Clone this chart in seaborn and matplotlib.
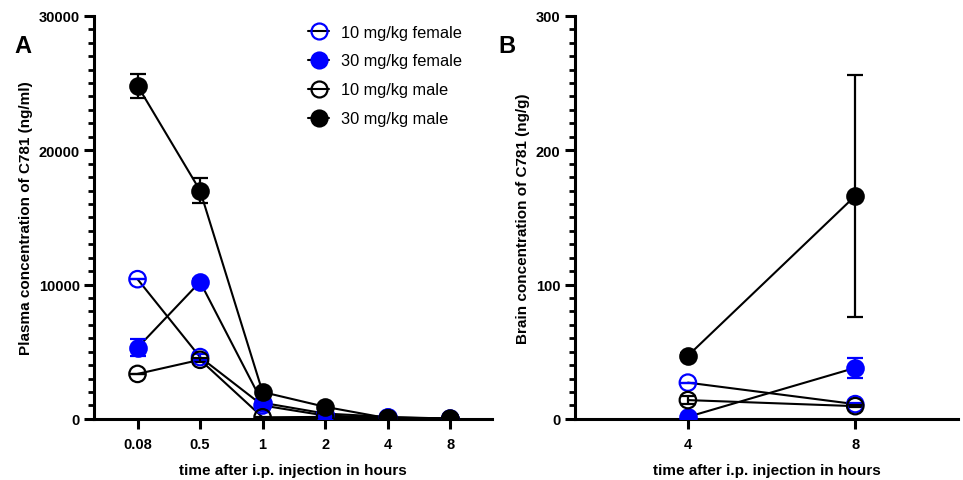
"""
plot.py

C781 plasma and brain concentration after i.p. injection (panels A and B).
"""

import pandas as pd
import matplotlib.pyplot as plt
from matplotlib.lines import Line2D
from matplotlib.ticker import MultipleLocator
import seaborn as sns


# ========== DATA ========== #

GROUPS = ["10 mg/kg female", "30 mg/kg female", "10 mg/kg male", "30 mg/kg male"]
COLORS = ["blue", "blue", "black", "black"]
FILLED = [False, True, False, True]

PLASMA_TIMES = ["0.08", "0.5", "1", "2", "4", "8"]
plasma_f10 = [10400, 4600, 1000, 250, 100, 30]
plasma_f30 = [5300, 10200, 1200, 400, 150, 20]
plasma_m10 = [3350, 4400, 120, 150, 50, 20]
plasma_m30 = [24800, 17000, 2000, 900, 50, 30]
plasma_f10_err = [0, 250, 100, 50, 30, 10]
plasma_f30_err = [650, 200, 250, 100, 40, 10]
plasma_m10_err = [0, 150, 50, 30, 20, 10]
plasma_m30_err = [900, 950, 150, 100, 20, 10]

BRAIN_TIMES = ["4", "8"]
brain_f10 = [27, 11]
brain_f30 = [1.5, 38]
brain_m10 = [14, 9.5]
brain_m30 = [47, 166]
brain_f10_err = [0, 1]
brain_f30_err = [0.5, 7.5]
brain_m10_err = [3, 1]
brain_m30_err = [2, 90]


# ========== HELPERS ========== #

def make_frame(times, values, errors):
    rows = []
    for grp, vals, errs in zip(GROUPS, values, errors):
        for i, (t, v, e) in enumerate(zip(times, vals, errs)):
            rows.append({"group": grp, "time": t, "pos": i, "value": v, "err": e})
    return pd.DataFrame(rows)


def draw_panel(ax, df, times):
    for grp, color, filled in zip(GROUPS, COLORS, FILLED):
        sub = df[df["group"] == grp]
        sns.lineplot(data=sub, x="pos", y="value", color="black", lw=1.5,
                     ax=ax, legend=False, zorder=2)
        ax.errorbar(sub["pos"], sub["value"], yerr=sub["err"], fmt="none",
                    ecolor=color, elinewidth=1.6, capsize=6, capthick=1.6, zorder=3)
        sns.scatterplot(data=sub, x="pos", y="value", s=140, marker="o",
                        facecolor=color if filled else "none",
                        edgecolor=color, linewidth=1.6, ax=ax, legend=False, zorder=4)

    ax.set_xticks(range(len(times)))
    ax.set_xticklabels(times)
    ax.set_xlabel("time after i.p. injection in hours", fontweight="bold",
                  fontsize=11, labelpad=9)
    for side in ["top", "right"]:
        ax.spines[side].set_visible(False)
    for side in ["left", "bottom"]:
        ax.spines[side].set_linewidth(2.2)
        ax.spines[side].set_color("black")
    ax.tick_params(axis="both", which="major", width=2.2, length=7,
                   labelsize=10.5, colors="black")
    ax.tick_params(axis="x", which="major", pad=6)
    ax.tick_params(axis="y", which="minor", width=2.0, length=4, colors="black")
    for lbl in ax.get_xticklabels() + ax.get_yticklabels():
        lbl.set_fontweight("bold")


# ========== MAIN ========== #

def main():
    sns.set_style("ticks")
    plt.rcParams["font.family"] = ["Liberation Sans", "DejaVu Sans"]
    plt.rcParams["text.color"] = "black"
    plt.rcParams["axes.labelcolor"] = "black"

    plasma = make_frame(PLASMA_TIMES,
                        [plasma_f10, plasma_f30, plasma_m10, plasma_m30],
                        [plasma_f10_err, plasma_f30_err, plasma_m10_err, plasma_m30_err])
    brain = make_frame(BRAIN_TIMES,
                       [brain_f10, brain_f30, brain_m10, brain_m30],
                       [brain_f10_err, brain_f30_err, brain_m10_err, brain_m30_err])

    fig = plt.figure(figsize=(9.63, 4.81), dpi=100)
    ax_a = fig.add_axes([0.098, 0.127, 0.413, 0.838])
    ax_b = fig.add_axes([0.597, 0.127, 0.398, 0.838])

    # Panel A - plasma
    draw_panel(ax_a, plasma, PLASMA_TIMES)
    ax_a.set_ylim(0, 30000)
    ax_a.set_xlim(-0.69, 5.67)
    ax_a.yaxis.set_major_locator(MultipleLocator(10000))
    ax_a.yaxis.set_minor_locator(MultipleLocator(1000))
    ax_a.set_ylabel("Plasma concentration of C781 (ng/ml)", fontweight="bold", fontsize=11)

    handles = [
        Line2D([], [], color="black", lw=1.5, marker="o", markersize=11.5,
               markerfacecolor=c if f else "none", markeredgecolor=c, markeredgewidth=1.6)
        for c, f in zip(COLORS, FILLED)
    ]
    ax_a.legend(handles, GROUPS, loc="upper left", bbox_to_anchor=(0.5, 1.015),
                frameon=False, fontsize=11.8, handlelength=1.3, handletextpad=0.7,
                labelspacing=0.85)

    # Panel B - brain
    draw_panel(ax_b, brain, BRAIN_TIMES)
    ax_b.set_ylim(0, 300)
    ax_b.set_xlim(-0.675, 1.615)
    ax_b.yaxis.set_major_locator(MultipleLocator(100))
    ax_b.yaxis.set_minor_locator(MultipleLocator(10))
    ax_b.set_ylabel("Brain concentration of C781 (ng/g)", fontweight="bold", fontsize=11)

    fig.text(0.015, 0.89, "A", fontsize=17, fontweight="bold")
    fig.text(0.518, 0.89, "B", fontsize=17, fontweight="bold")

    fig.savefig("out.png", dpi=100)
    plt.close(fig)


if __name__ == "__main__":
    main()
